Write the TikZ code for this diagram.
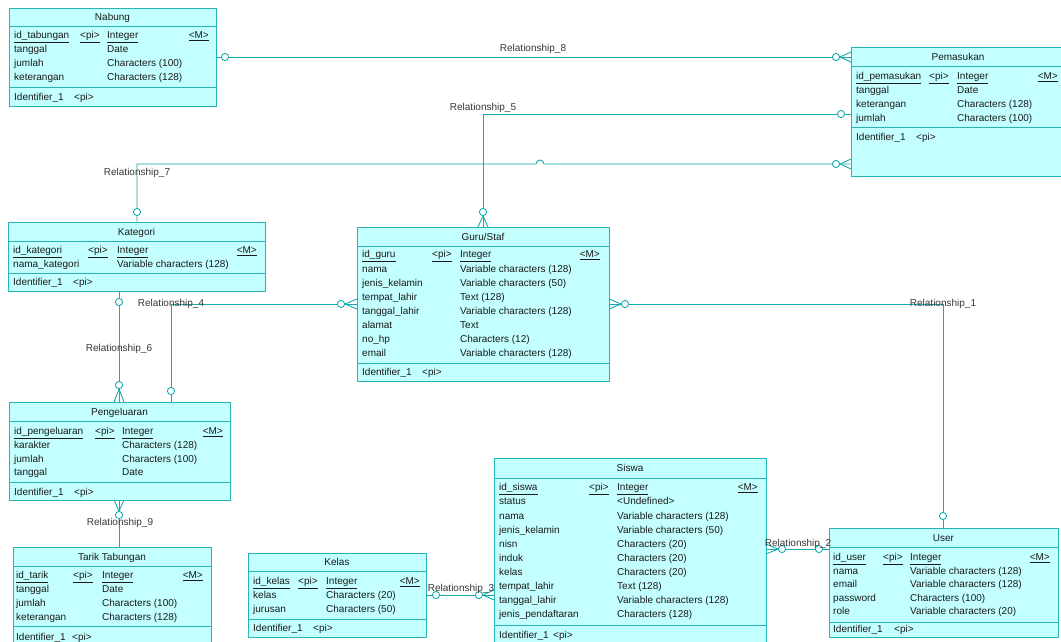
\documentclass[tikz,border=0pt]{standalone}
\usepackage{fontspec}
\setmainfont{Liberation Sans}
\usetikzlibrary{fit}
\definecolor{eborder}{RGB}{40,180,180}
\definecolor{efill}{RGB}{196,255,255}
\definecolor{lnk}{RGB}{20,172,172}
\definecolor{txtc}{RGB}{25,25,25}
\definecolor{labc}{RGB}{55,55,55}
\newcommand\en{}
\newcommand\cA{0}\newcommand\cB{0}\newcommand\cC{0}\newcommand\cD{0}
\newcommand\mkent[8]{%
  \node[entbox,fit={(#2,#3) (#4,#5)},inner sep=0pt] (#1) {};
  \draw[eline] (#2,#6) -- (#4,#6);
  \draw[eline] (#2,#7) -- (#4,#7);
  \node[ttl] (#1-title) at ({(#2+#4)/2},{(#3+#6)/2+3.5}) {#8};
  \renewcommand\en{#1}}
\newcommand\cols[4]{\renewcommand\cA{#1}\renewcommand\cB{#2}\renewcommand\cC{#3}\renewcommand\cD{#4}}
\newcommand\rowK[4]{%
  \node[ct] (\en-#1n) at (\cA,#2+3.5) {\underline{#3}};
  \node[ct] (\en-#1p) at (\cB,#2+3.5) {\underline{<pi>}};
  \node[ct] (\en-#1t) at (\cC,#2+3.5) {\underline{#4}};
  \node[ct,anchor=base east] (\en-#1m) at (\cD,#2+3.5) {\underline{<M>}};}
\newcommand\rowA[4]{%
  \node[ct] (\en-#1n) at (\cA,#2+3.5) {#3};
  \node[ct] (\en-#1t) at (\cC,#2+3.5) {#4};}
\newcommand\rowI[2]{%
  \node[ct] (\en-idn) at (\cA,#1+3.5) {Identifier\_1};
  \node[ct] (\en-idp) at (#2,#1+3.5) {<pi>};}
\newcommand\ocirc[2]{\draw[rl,fill=white] (#1,#2) circle (3.6);}
\newcommand\crowH[3]{\draw[rl] (#3,#2) -- (#1,#2-5) (#3,#2) -- (#1,#2+5);}
\newcommand\crowV[3]{\draw[rl] (#1,#3) -- (#1-5,#2) (#1,#3) -- (#1+5,#2);}
\begin{document}
\begin{tikzpicture}[x=1pt,y=-1pt,
  entbox/.style={draw=eborder,fill=efill,line width=0.9pt},
  eline/.style={draw=eborder,line width=0.9pt},
  ct/.style={anchor=base west,inner sep=0pt,font=\fontsize{10}{12}\selectfont,text=txtc},
  ttl/.style={anchor=base,inner sep=0pt,font=\fontsize{10}{12}\selectfont,text=txtc},
  rl/.style={draw=lnk,line width=0.9pt},
  rlab/.style={anchor=base,inner sep=0pt,font=\fontsize{10}{12}\selectfont,text=labc}]
\useasboundingbox (0,0) rectangle (1061,641);
\fill[white] (0,0) rectangle (1061,641);

% ---------- entities ----------
\mkent{nabung}{9}{8}{216}{106}{26}{87}{Nabung}
\cols{14}{80}{107}{209}
\rowK{1}{35}{id\_tabungan}{Integer}
\rowA{2}{49}{tanggal}{Date}
\rowA{3}{63}{jumlah}{Characters (100)}
\rowA{4}{77}{keterangan}{Characters (128)}
\rowI{97}{74}

\mkent{pemasukan}{851}{47}{1065}{176}{66}{127}{Pemasukan}
\cols{856}{929}{957}{1058}
\rowK{1}{76}{id\_pemasukan}{Integer}
\rowA{2}{90}{tanggal}{Date}
\rowA{3}{104}{keterangan}{Characters (128)}
\rowA{4}{118}{jumlah}{Characters (100)}
\rowI{137}{916}

\mkent{kategori}{8}{222}{265}{291}{241}{273}{Kategori}
\cols{13}{88}{117}{257}
\rowK{1}{250}{id\_kategori}{Integer}
\rowA{2}{264}{nama\_kategori}{Variable characters (128)}
\rowI{282}{73}

\mkent{guru}{357}{227}{609}{381}{246}{363}{Guru/Staf}
\cols{362}{432}{460}{600}
\rowK{1}{254}{id\_guru}{Integer}
\rowA{2}{268.5}{nama}{Variable characters (128)}
\rowA{3}{282.5}{jenis\_kelamin}{Variable characters (50)}
\rowA{4}{296.5}{tempat\_lahir}{Text (128)}
\rowA{5}{310.5}{tanggal\_lahir}{Variable characters (128)}
\rowA{6}{324.5}{alamat}{Text}
\rowA{7}{338.5}{no\_hp}{Characters (12)}
\rowA{8}{352.5}{email}{Variable characters (128)}
\rowI{372}{422}

\mkent{pengeluaran}{9}{402}{230}{500}{421}{482}{Pengeluaran}
\cols{14}{95}{122}{223}
\rowK{1}{431}{id\_pengeluaran}{Integer}
\rowA{2}{445}{karakter}{Characters (128)}
\rowA{3}{458.5}{jumlah}{Characters (100)}
\rowA{4}{472}{tanggal}{Date}
\rowI{492}{74}

\mkent{tarik}{13}{547}{211}{650}{566}{626}{Tarik Tabungan}
\cols{16}{73}{102}{203}
\rowK{1}{575}{id\_tarik}{Integer}
\rowA{2}{589}{tanggal}{Date}
\rowA{3}{603}{jumlah}{Characters (100)}
\rowA{4}{617}{keterangan}{Characters (128)}
\rowI{637}{72}

\mkent{kelas}{248}{553}{426}{637}{571}{619}{Kelas}
\cols{253}{298}{326}{420}
\rowK{1}{581}{id\_kelas}{Integer}
\rowA{2}{595}{kelas}{Characters (20)}
\rowA{3}{609}{jurusan}{Characters (50)}
\rowI{628}{313}

\mkent{siswa}{494}{458}{766}{650}{478}{625}{Siswa}
\cols{499}{589}{617}{758}
\rowK{1}{487}{id\_siswa}{Integer}
\rowA{2}{501}{status}{<Undefined>}
\rowA{3}{515.5}{nama}{Variable characters (128)}
\rowA{4}{529.5}{jenis\_kelamin}{Variable characters (50)}
\rowA{5}{543.5}{nisn}{Characters (20)}
\rowA{6}{557.5}{induk}{Characters (20)}
\rowA{7}{571.5}{kelas}{Characters (20)}
\rowA{8}{585.5}{tempat\_lahir}{Text (128)}
\rowA{9}{599.5}{tanggal\_lahir}{Variable characters (128)}
\rowA{10}{613.5}{jenis\_pendaftaran}{Characters (128)}
\rowI{635}{553}

\mkent{user}{829}{528}{1058}{637}{547}{622}{User}
\cols{833}{883}{910}{1050}
\rowK{1}{557}{id\_user}{Integer}
\rowA{2}{571}{nama}{Variable characters (128)}
\rowA{3}{584}{email}{Variable characters (128)}
\rowA{4}{598}{password}{Characters (100)}
\rowA{5}{611}{role}{Variable characters (20)}
\rowI{629}{894}

% ---------- relationships ----------
% Relationship_8
\draw[rl] (nabung.east |- 0,57) -- (pemasukan.west |- 0,57);
\ocirc{225}{57}
\crowH{851}{57}{840}\ocirc{836}{57}
\node[rlab] (l8) at (533,51.5) {Relationship\_8};

% Relationship_5
\coordinate (r5c) at (483,114);
\draw[rl] (pemasukan.west |- r5c) -- (r5c) -- (guru.north -| r5c);
\ocirc{841}{114}
\crowV{483}{227}{216}\ocirc{483}{212}
\node[rlab] (l5) at (483,110.5) {Relationship\_5};

% Relationship_7
\coordinate (r7c) at (137,164);
\draw[rl] (pemasukan.west |- r7c) -- (544,164) arc (0:-180:4) -- (r7c) -- (kategori.north -| r7c);
\crowH{851}{164}{840}\ocirc{836}{164}
\ocirc{137}{212}
\node[rlab] (l7) at (137,175.5) {Relationship\_7};

% Relationship_6
\draw[rl] (kategori.south -| 119,0) -- (pengeluaran.north -| 119,0);
\ocirc{119}{302}
\crowV{119}{402}{389}\ocirc{119}{385}
\node[rlab] (l6) at (119,351.5) {Relationship\_6};

% Relationship_4
\coordinate (r4c) at (171,304);
\draw[rl] (pengeluaran.north -| r4c) -- (r4c) -- (guru.west |- r4c);
\ocirc{171}{391}
\crowH{357}{304}{345}\ocirc{341}{304}
\node[rlab] (l4) at (171,306.5) {Relationship\_4};

% Relationship_9
\draw[rl] (pengeluaran.south -| 119,0) -- (tarik.north -| 119,0);
\crowV{119}{500}{511}\ocirc{119}{515}
\node[rlab] (l9) at (120,525.5) {Relationship\_9};

% Relationship_1
\coordinate (r1c) at (943,304);
\draw[rl] (guru.east |- r1c) -- (r1c) -- (user.north -| r1c);
\crowH{609}{304}{621}\ocirc{625}{304}
\ocirc{943}{516}
\node[rlab] (l1) at (943,306.5) {Relationship\_1};

% Relationship_3
\draw[rl] (kelas.east |- 0,595) -- (siswa.west |- 0,595);
\ocirc{436}{595}
\crowH{494}{595}{483}\ocirc{479}{595}
\node[rlab] (l3) at (461,591.5) {Relationship\_3};

% Relationship_2
\draw[rl] (siswa.east |- 0,549) -- (user.west |- 0,549);
\crowH{766}{549}{778}\ocirc{782}{549}
\ocirc{819}{549}
\node[rlab] (l2) at (798,546.5) {Relationship\_2};
\end{tikzpicture}
\end{document}
